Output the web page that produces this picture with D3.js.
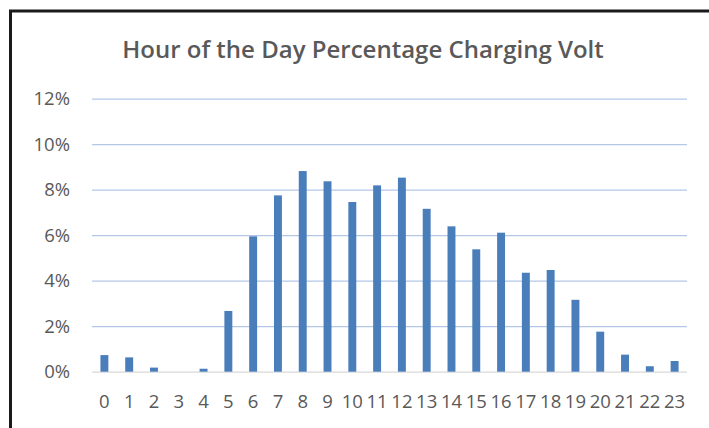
<!DOCTYPE html>
<html>
<head>
<meta charset="utf-8">
<script src="https://cdn.jsdelivr.net/npm/d3@7"></script>
<style>
  body { margin: 0; background: #fff; }
  text { font-family: "Open Sans", sans-serif; fill: #595959; }
</style>
</head>
<body>
<div id="chart"></div>
<script>
// hour of day and share of charging sessions (%)
var hours = ["0","1","2","3","4","5","6","7","8","9","10","11","12","13","14","15","16","17","18","19","20","21","22","23"];
var shares = [0.73, 0.63, 0.18, 0, 0.13, 2.67, 5.95, 7.75, 8.82, 8.37, 7.46, 8.19,
              8.53, 7.16, 6.39, 5.38, 6.11, 4.35, 4.47, 3.16, 1.76, 0.75, 0.24, 0.47];
var yTicks = [0, 2, 4, 6, 8, 10, 12];
var title = "Hour of the Day Percentage Charging Volt";

var svgWidth = 709;
var svgHeight = 428;

var margin = { top: 98.7, right: 22, bottom: 56.3, left: 92 };
var width = svgWidth - margin.left - margin.right;
var height = svgHeight - margin.top - margin.bottom;

var svg = d3.select("#chart")
  .append("svg")
  .attr("width", svgWidth)
  .attr("height", svgHeight);

// frame around the chart (right and bottom fall outside the shot)
svg.append("path")
  .attr("d", "M10.5,428 V11 H709")
  .attr("fill", "none")
  .attr("stroke", "#1a1a1a")
  .attr("stroke-width", 3);

svg.append("text")
  .attr("x", 363)
  .attr("y", 58)
  .attr("text-anchor", "middle")
  .attr("font-size", "24px")
  .attr("font-weight", 600)
  .text(title);

var chartGroup = svg.append("g")
  .attr("transform", `translate(${margin.left}, ${margin.top})`);

var xScale = d3.scaleBand()
  .domain(hours)
  .range([0, width])
  .paddingInner(0.68)
  .paddingOuter(0.34);

var yScale = d3.scaleLinear()
  .domain([0, 12])
  .range([height, 0]);

// gridlines
var leftAxis = d3.axisLeft(yScale)
  .tickValues(yTicks)
  .tickSize(-width)
  .tickPadding(22)
  .tickFormat(d => d + "%");

var yAxis = chartGroup.append("g").call(leftAxis);
yAxis.select(".domain").remove();
yAxis.selectAll("line")
  .attr("stroke", d => d === 0 ? "#d9d9d9" : "#b4c7e7")
  .attr("stroke-width", 1.3);
yAxis.selectAll("text")
  .attr("font-size", "18.5px")
  .attr("fill", "#595959")
  .style("font-family", "'Open Sans', sans-serif");

var bottomAxis = d3.axisBottom(xScale).tickSize(0).tickPadding(23);
var xAxis = chartGroup.append("g")
  .attr("transform", `translate(0, ${height})`)
  .call(bottomAxis);
xAxis.select(".domain").remove();
xAxis.selectAll("text")
  .attr("font-size", "18.5px")
  .attr("fill", "#595959")
  .style("font-family", "'Open Sans', sans-serif");

chartGroup.selectAll("rect")
  .data(shares)
  .enter()
  .append("rect")
  .attr("x", (d, i) => xScale(hours[i]))
  .attr("y", d => yScale(d))
  .attr("width", xScale.bandwidth())
  .attr("height", d => height - yScale(d))
  .attr("fill", "#4a7ebb");
</script>
</body>
</html>
